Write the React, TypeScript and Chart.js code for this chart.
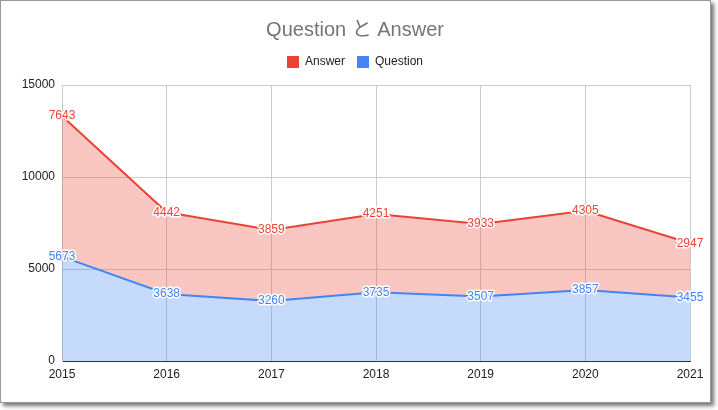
import React, { useEffect, useRef } from "react";
import { Chart, registerables } from "chart.js";

Chart.register(...registerables);

const years = ["2015", "2016", "2017", "2018", "2019", "2020", "2021"];
const questionValues = [5673, 3638, 3260, 3735, 3507, 3857, 3455];
const answerValues = [7643, 4442, 3859, 4251, 3933, 4305, 2947];
const titleText = "Question と Answer";
const yTicks = [0, 5000, 10000, 15000];

const FONT = "'Liberation Sans', Arial, 'Noto Sans CJK JP', sans-serif";
const RED = "#ea4335";
const BLUE = "#4285f4";

const valueLabels = {
  id: "valueLabels",
  beforeLayout(chart: any) {
    const lg = chart.legend;
    if (lg && !lg._extraPatched) {
      const orig = lg.fit.bind(lg);
      lg.fit = function () {
        orig();
        this.height += 7;
      };
      lg._extraPatched = true;
    }
  },
  afterDatasetsDraw(chart: any) {
    const ctx = chart.ctx;
    ctx.save();
    ctx.font = `12px ${FONT}`;
    ctx.textAlign = "center";
    ctx.textBaseline = "middle";
    ctx.lineJoin = "round";
    chart.data.datasets.forEach((ds: any, di: number) => {
      const meta = chart.getDatasetMeta(di);
      meta.data.forEach((pt: any, i: number) => {
        const txt = String(ds.data[i]);
        ctx.lineWidth = 3;
        ctx.strokeStyle = "#ffffff";
        ctx.strokeText(txt, pt.x, pt.y);
        ctx.fillStyle = ds.borderColor;
        ctx.fillText(txt, pt.x, pt.y);
      });
    });
    ctx.restore();
  },
};

export default function App() {
  const ref = useRef<HTMLCanvasElement>(null);
  useEffect(() => {
    document.body.style.margin = "0";
    const chart = new Chart(ref.current!, {
      type: "line",
      data: {
        labels: years,
        datasets: [
          {
            label: "Question",
            data: questionValues,
            borderColor: BLUE,
            backgroundColor: "rgba(66,133,244,0.3)",
            fill: "origin",
            borderWidth: 2,
            pointRadius: 0,
            tension: 0,
          },
          {
            label: "Answer",
            data: answerValues,
            borderColor: RED,
            backgroundColor: "rgba(234,67,53,0.3)",
            fill: "-1",
            borderWidth: 2,
            pointRadius: 0,
            tension: 0,
          },
        ],
      },
      options: {
        responsive: false,
        animation: false,
        layout: { padding: { left: 20, right: 28, top: 0, bottom: 0 } },
        plugins: {
          title: {
            display: true,
            text: titleText,
            color: "#757575",
            font: { family: FONT, size: 20, weight: "normal" },
            padding: { top: 18, bottom: 2 },
          },
          legend: {
            reverse: true,
            labels: {
              boxWidth: 12,
              boxHeight: 12,
              color: "#222",
              font: { family: FONT, size: 12 },
              padding: 12,
              generateLabels(chart: any) {
                return chart.data.datasets.map((ds: any, i: number) => ({
                  text: ds.label,
                  fillStyle: ds.borderColor,
                  strokeStyle: ds.borderColor,
                  lineWidth: 0,
                  fontColor: "#222",
                  hidden: false,
                  datasetIndex: i,
                }));
              },
            },
          },
          tooltip: { enabled: false },
        },
        scales: {
          x: {
            grid: { color: "#cccccc", drawTicks: false },
            border: { color: "#333333" },
            ticks: { color: "#222", font: { family: FONT, size: 12 }, padding: 6, maxRotation: 0 },
            afterFit(scale: any) {
              scale.height = 49;
            },
          },
          y: {
            stacked: true,
            min: 0,
            max: 15000,
            grid: { color: "#cccccc", drawTicks: false },
            border: { color: "#cccccc" },
            afterBuildTicks(scale: any) {
              scale.ticks = yTicks.map((v) => ({ value: v }));
            },
            ticks: {
              color: "#222",
              font: { family: FONT, size: 12 },
              padding: 7,
              callback: (v: any) => String(v),
            },
            afterFit(scale: any) {
              scale.width = 42;
            },
          },
        },
      },
      plugins: [valueLabels],
    });
    return () => chart.destroy();
  }, []);

  return (
    <div style={{ position: "relative", width: 718, height: 410, background: "#fff" }}>
      <div
        style={{
          position: "absolute",
          left: 0,
          top: 0,
          width: 709,
          height: 401,
          border: "1px solid #9a9a9a",
          boxShadow: "3px 3px 4px rgba(0,0,0,0.55)",
          background: "#fff",
        }}
      />
      <canvas ref={ref} width={718} height={410} style={{ position: "absolute", left: 0, top: 0 }} />
    </div>
  );
}
